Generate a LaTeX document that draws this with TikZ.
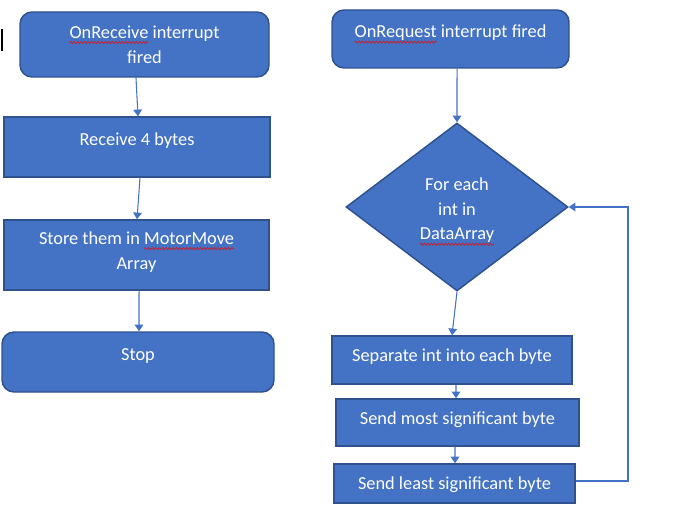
\documentclass[tikz,border=0pt]{standalone}
\usepackage{fontspec}
\setmainfont{Carlito}
\usepackage{tikz}
\usetikzlibrary{arrows.meta,shapes.geometric,positioning,calc,decorations.pathmorphing}
\definecolor{boxfill}{HTML}{4472C4}
\definecolor{boxline}{HTML}{2F528F}
\definecolor{spellred}{HTML}{E01010}
\newsavebox\wavebox
\newcommand\spellwave[1]{\sbox\wavebox{#1}\rlap{\tikz[overlay,x=1pt,y=1pt,baseline=0pt]\draw[spellred,sharp corners,line width=0.45pt,decorate,decoration={snake,amplitude=0.8pt,segment length=2.6pt}] (0,-3.2) -- (\the\wd\wavebox,-3.2);}\usebox\wavebox}
\tikzset{
  stepbox/.style={draw=boxline,fill=boxfill,line width=1.1pt,text=white,inner sep=0pt,
    font=\fontsize{13.75}{18.75}\selectfont,align=center},
  startbox/.style={stepbox,rounded corners=9pt},
  raise/.style={text height=8.85pt,text depth=#1},
  flow/.style={color=boxfill,line width=0.8pt,-{Triangle[length=5pt,width=6.5pt]}}
}
\begin{document}
\begin{tikzpicture}[x=0.75pt,y=-0.75pt]
\useasboundingbox (0,0) rectangle (696,527);
\draw[black,line width=0.8pt] (2,29) -- (2,51);
\node[startbox,minimum width=186.75pt,minimum height=48.75pt] (recv) at (144.5,44.5) {\spellwave{OnReceive} interrupt\\fired};
\node[stepbox,raise=10.5pt,minimum width=199.5pt,minimum height=45pt] (rbytes) at (137,147) {Receive 4 bytes};
\node[stepbox,minimum width=198.75pt,minimum height=52.5pt] (store) at (136.5,255) {Store them in \spellwave{MotorMove}\\Array\\[-12pt]};
\node[startbox,raise=10.5pt,minimum width=204pt,minimum height=45pt] (stop) at (138,362) {Stop};
\node[startbox,raise=10.5pt,minimum width=177.75pt,minimum height=43.5pt] (req) at (450.5,39) {\spellwave{OnRequest} interrupt fired};
\node[stepbox,diamond,minimum width=166.5pt,minimum height=126pt,font=\fontsize{13.75}{18.4}\selectfont] (loop) at (457,207) {\mbox{}\\[-3.5pt]For each\\int in\\\spellwave{DataArray}};
\node[stepbox,raise=6pt,minimum width=180pt,minimum height=36pt] (sep) at (452,360) {Separate int into each byte};
\node[stepbox,raise=6.5pt,minimum width=182.25pt,minimum height=35.25pt] (msb) at (457.5,422.5) {Send most significant byte};
\node[stepbox,raise=0pt,minimum width=180.75pt,minimum height=29.25pt] (lsb) at (454.5,483.5) {Send least significant byte};
\coordinate (back) at (628,207);
\path[flow]
([xshift=-6.4pt]recv.south) edge ([xshift=0.75pt]rbytes.north)
([xshift=2.25pt]rbytes.south) edge ([xshift=0.4pt]store.north)
([xshift=1.9pt]store.south) edge ([xshift=0.75pt]stop.north)
([xshift=4.9pt]req.south) edge (loop.north)
(loop.south) edge (sep.north)
([xshift=3pt]sep.south) edge ([xshift=-1.1pt]msb.north)
([xshift=-1.9pt]msb.south) edge ([xshift=0.4pt]lsb.north);
\draw[flow] ([yshift=1.9pt]lsb.east) -| (back) -- (loop.east);
\end{tikzpicture}
\end{document}
